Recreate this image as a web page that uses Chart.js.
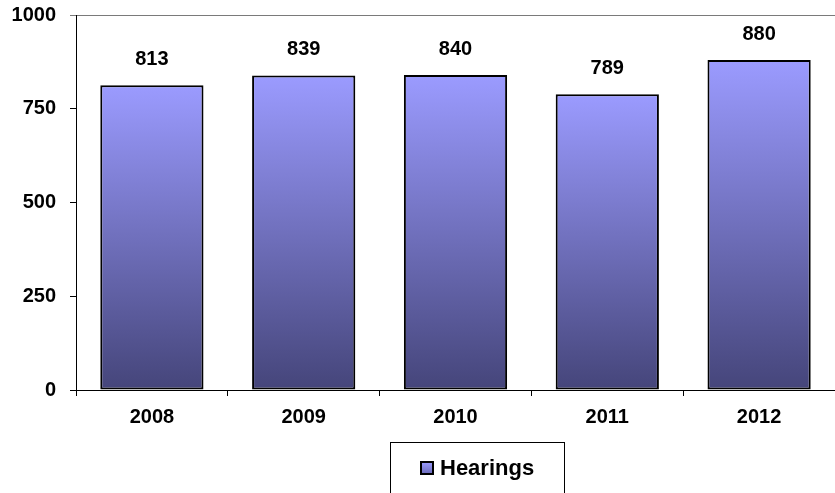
<!DOCTYPE html>
<html>
<head>
<meta charset="utf-8">
<style>
  html, body { margin: 0; padding: 0; background: #ffffff; }
  #wrap { width: 835px; height: 493px; position: relative; }
</style>
<script src="https://cdn.jsdelivr.net/npm/chart.js@4/dist/chart.umd.min.js"></script>
</head>
<body>
<div id="wrap"><canvas id="c" width="835" height="493"></canvas></div>
<script>
// Hearings per year
const years = ['2008', '2009', '2010', '2011', '2012'];
const hearings = [813, 839, 840, 789, 880];
const yTicks = [0, 250, 500, 750, 1000];
const seriesName = 'Hearings';

const FONT = '"Liberation Sans", Arial, Helvetica, sans-serif';
const TOP_COLOR = '#9b9bff';
const BOTTOM_COLOR = '#45457a';

// vertical gradient spanning one bar, light at the top, dark at the base
function barGradient(ctx) {
  const chart = ctx.chart;
  const y = chart.scales && chart.scales.y;
  if (!y || ctx.type !== 'data') return TOP_COLOR;
  const top = y.getPixelForValue(ctx.raw);
  const base = y.getPixelForValue(0);
  if (!isFinite(top) || !isFinite(base) || top === base) return TOP_COLOR;
  const g = chart.ctx.createLinearGradient(0, top, 0, base);
  g.addColorStop(0, TOP_COLOR);
  g.addColorStop(1, BOTTOM_COLOR);
  return g;
}

// value printed above each bar
const valueLabels = {
  id: 'valueLabels',
  afterDatasetsDraw(chart) {
    const c = chart.ctx;
    const meta = chart.getDatasetMeta(0);
    c.save();
    c.font = 'bold 20px ' + FONT;
    c.fillStyle = '#000';
    c.textAlign = 'center';
    c.textBaseline = 'alphabetic';
    meta.data.forEach((bar, i) => {
      c.fillText(String(chart.data.datasets[0].data[i]), bar.x, bar.y - 20);
    });
    c.restore();
  }
};

// boxed legend below the axis
const boxedLegend = {
  id: 'boxedLegend',
  afterDraw(chart) {
    const c = chart.ctx;
    const label = chart.data.datasets[0].label;
    const boxL = 390, boxT = 442.5, boxW = 174, boxH = 60;
    c.save();
    c.strokeStyle = '#000';
    c.lineWidth = 1;
    c.strokeRect(boxL + 0.5, boxT, boxW, boxH);
    // marker
    const mx = 421, my = 462, ms = 12;
    const g = c.createLinearGradient(0, my, 0, my + ms);
    g.addColorStop(0, TOP_COLOR);
    g.addColorStop(1, '#6a6ab8');
    c.fillStyle = g;
    c.fillRect(mx, my, ms, ms);
    c.lineWidth = 2;
    c.strokeStyle = '#000';
    c.strokeRect(mx, my, ms, ms);
    // text
    c.font = 'bold 22px ' + FONT;
    c.fillStyle = '#000';
    c.textAlign = 'left';
    c.textBaseline = 'alphabetic';
    c.fillText(label, 440, 475);
    c.restore();
  }
};

new Chart(document.getElementById('c'), {
  type: 'bar',
  data: {
    labels: years,
    datasets: [{
      label: seriesName,
      data: hearings,
      backgroundColor: barGradient,
      borderColor: '#000000',
      borderWidth: 2,
      borderSkipped: false,
      categoryPercentage: 1.0,
      barPercentage: 0.68
    }]
  },
  options: {
    responsive: false,
    animation: false,
    layout: { padding: { top: 15, right: 0, bottom: 68, left: 0 } },
    plugins: {
      legend: { display: false },
      tooltip: { enabled: false }
    },
    scales: {
      x: {
        offset: true,
        grid: {
          offset: true,
          drawOnChartArea: false,
          drawTicks: true,
          tickLength: 6,
          tickColor: '#000',
          lineWidth: 1
        },
        border: { display: true, color: '#000', width: 1 },
        ticks: {
          color: '#000',
          font: { family: FONT, size: 20, weight: 'bold' },
          padding: 9,
          maxRotation: 0
        },
        afterFit(scale) {
          scale.height = 35;
          scale.paddingLeft = 0;
          scale.paddingRight = 0;
        }
      },
      y: {
        min: 0,
        max: 1000,
        afterBuildTicks(scale) { scale.ticks = yTicks.map(v => ({ value: v })); },
        grid: {
          drawOnChartArea: true,
          color: (ctx) => (ctx.tick && ctx.tick.value === 1000 ? '#7a7a7a' : 'rgba(0,0,0,0)'),
          drawTicks: true,
          tickLength: 6,
          tickColor: (ctx) => (ctx.tick && ctx.tick.value === 1000 ? '#7a7a7a' : '#000'),
          lineWidth: 1
        },
        border: { display: true, color: '#000', width: 1 },
        ticks: {
          color: '#000',
          font: { family: FONT, size: 20, weight: 'bold' },
          padding: 14,
          callback: (v) => String(v)
        },
        afterFit(scale) {
          scale.width = 76;
          scale.paddingTop = 0;
          scale.paddingBottom = 0;
        }
      }
    }
  },
  plugins: [valueLabels, boxedLegend]
});
</script>
</body>
</html>
